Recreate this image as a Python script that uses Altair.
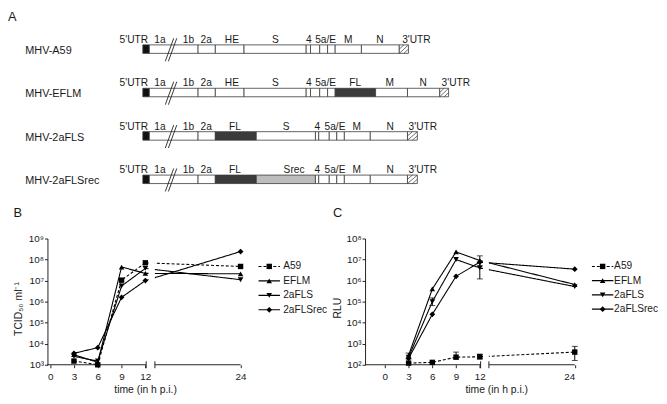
import altair as alt
import pandas as pd

FONT = "Liberation Sans"
INK = "#1a1a1a"
LINE = "#222222"

# ---------------- Panel A: genome organisation ----------------
CONSTRUCTS = ["MHV-A59", "MHV-EFLM", "MHV-2aFLS", "MHV-2aFLSrec"]

A59_GENES = ["5'UTR", "1ab", "2a", "HE", "S", "4", "5a", "5b", "E", "M", "N", "3'UTR"]
A59_LENGTHS = [6.6, 49.4, 17.5, 29.1, 63.0, 4.4, 9.3, 8.0, 7.7, 26.6, 38.4, 9.3]
EFLM_GENES = ["5'UTR", "1ab", "2a", "HE", "S", "4", "5a", "5b", "E", "FL", "M", "N", "3'UTR"]
EFLM_LENGTHS = [6.6, 49.4, 17.5, 29.1, 63.0, 4.4, 9.3, 8.0, 7.7, 41.0, 32.3, 32.7, 9.0]
FLS_GENES = ["5'UTR", "1ab", "2a", "FL", "S", "4", "5a", "5b", "E", "M", "N", "3'UTR"]
FLS_LENGTHS = [6.6, 49.4, 17.5, 41.5, 60.0, 3.3, 10.7, 7.6, 7.7, 26.3, 37.7, 10.0]
FLSREC_GENES = ["5'UTR", "1ab", "2a", "FL", "Srec", "4", "5a", "5b", "E", "M", "N", "3'UTR"]
FLSREC_LENGTHS = [6.6, 49.4, 17.5, 41.5, 60.0, 3.3, 10.7, 7.6, 7.7, 26.3, 37.7, 10.0]

A59_LABELS = ["5'UTR", "1a", "1b", "2a", "HE", "S", "4", "5a/E", "M", "N", "3'UTR"]
A59_LABEL_POS = [-9.2, 17.3, 46.3, 64.3, 90.3, 134.3, 168.3, 185.3, 208.3, 240.3, 277.3]
EFLM_LABELS = ["5'UTR", "1a", "1b", "2a", "HE", "S", "4", "5a/E", "FL", "M", "N", "3'UTR"]
EFLM_LABEL_POS = [-9.2, 17.3, 46.3, 64.3, 90.3, 134.3, 168.3, 185.3, 215.3, 250.3, 284.3, 317.3]
FLS_LABELS = ["5'UTR", "1a", "1b", "2a", "FL", "S", "4", "5a/E", "M", "N", "3'UTR"]
FLS_LABEL_POS = [-9.2, 17.3, 46.3, 64.3, 93.3, 145.3, 176.8, 194.8, 216.8, 250.8, 283.8]
FLSREC_LABELS = ["5'UTR", "1a", "1b", "2a", "FL", "Srec", "4", "5a/E", "M", "N", "3'UTR"]
FLSREC_LABEL_POS = [-9.2, 17.3, 46.3, 64.3, 93.3, 153.3, 176.8, 194.8, 216.8, 250.8, 283.8]

KINDS = ["utr5", "orf", "fl", "srec", "utr3"]
KIND_COLORS = ["#111111", "#ffffff", "#3b3b3b", "#bdbdbd", "#ffffff"]

# ---------------- Panels B / C: growth curves ----------------
TIME_H = [3, 6, 9, 12, 24]
SERIES = ["A59", "EFLM", "2aFLS", "2aFLSrec"]

TCID50_A59 = [1.5e3, 1.0e3, 1.05e7, 7.0e7, 4.7e7]
TCID50_EFLM = [3.0e3, 1.3e3, 4.4e7, 2.2e7, 2.1e7]
TCID50_2AFLS = [2.5e3, 1.5e3, 5.5e6, 3.8e7, 1.1e7]
TCID50_2AFLSREC = [3.5e3, 6.5e3, 1.6e6, 1.0e7, 2.4e8]

RLU_A59 = [1.2e2, 1.3e2, 2.3e2, 2.4e2, 4.0e2]
RLU_EFLM = [2.8e2, 4.0e5, 2.3e7, 9.0e6, 6.5e5]
RLU_2AFLS = [2.3e2, 1.0e5, 1.0e7, 4.0e6, 5.2e5]
RLU_2AFLSREC = [2.0e2, 2.5e4, 1.6e6, 7.5e6, 3.5e6]

RLU_LO_A59 = [None, None, 1.9e2, 1.9e2, 1.6e2]
RLU_HI_A59 = [None, None, 4.0e2, 3.2e2, 7.5e2]
RLU_LO_EFLM = [1.9e2, None, None, 5.0e6, None]
RLU_HI_EFLM = [3.6e2, None, None, 1.5e7, None]
RLU_LO_2AFLS = [None, 6.5e4, None, 1.2e6, None]
RLU_HI_2AFLS = [None, 1.5e5, None, 7.5e6, None]
RLU_LO_2AFLSREC = [None, None, None, None, None]
RLU_HI_2AFLSREC = [None, None, None, None, None]

SHAPES = ["square", "triangle-up", "triangle-down", "diamond"]
SIZES = [30, 34, 34, 24]
DASHES = [[3, 2], [1, 0], [1, 0], [1, 0]]

# ---------- build panel A tables ----------
ROW_PX = 44.0
HALF = 4.3 / ROW_PX
A_W, A_H = 430, 166
A_XDOM = [-96.7, 333.3]
A_YDOM = [-18 / ROW_PX, (A_H - 18) / ROW_PX]


def kind_of(g):
    return {"5'UTR": "utr5", "3'UTR": "utr3", "FL": "fl", "Srec": "srec"}.get(g, "orf")


seg_rows, lab_rows, hatch_rows, brk_rows = [], [], [], []
for r, (genes, lengths, labs, lpos) in enumerate(zip(
        [A59_GENES, EFLM_GENES, FLS_GENES, FLSREC_GENES],
        [A59_LENGTHS, EFLM_LENGTHS, FLS_LENGTHS, FLSREC_LENGTHS],
        [A59_LABELS, EFLM_LABELS, FLS_LABELS, FLSREC_LABELS],
        [A59_LABEL_POS, EFLM_LABEL_POS, FLS_LABEL_POS, FLSREC_LABEL_POS])):
    start = 0.0
    for g, L in zip(genes, lengths):
        seg_rows.append(dict(row=r, gene=g, kind=kind_of(g), x0=start, x1=start + L,
                             y0=r - HALF, y1=r + HALF))
        if g == "3'UTR":
            x0, x1 = start, start + L
            xm = (x0 + x1) / 2
            yt, yb, ym = r - HALF, r + HALF, r
            hatch_rows += [dict(x0=x0, y0=ym, x1=xm, y1=yt),
                           dict(x0=x0, y0=yb, x1=x1, y1=yt),
                           dict(x0=xm, y0=yb, x1=x1, y1=ym)]
        start += L
    for t, p in zip(labs, lpos):
        lab_rows.append(dict(row=r, label=t, x=p, y=r - 9.3 / ROW_PX))
    for bx in (22.8, 25.9):
        brk_rows.append(dict(x0=bx, y0=r + 12.3 / ROW_PX, x1=bx + 8.5, y1=r - 11.0 / ROW_PX))

seg_df = pd.DataFrame(seg_rows)
lab_df = pd.DataFrame(lab_rows)
hatch_df = pd.DataFrame(hatch_rows)
brk_df = pd.DataFrame(brk_rows)

name_expr = "[" + ",".join("'%s'" % c for c in CONSTRUCTS) + "][datum.value]"
AX = alt.Scale(domain=A_XDOM, nice=False, zero=False)
AY = alt.Scale(domain=A_YDOM, nice=False, zero=False, reverse=True)
A_YAXIS = alt.Axis(values=[0, 1, 2, 3], labelExpr=name_expr, labelAlign="left",
                   labelPadding=23, tickSize=0, ticks=False, domain=False, title=None,
                   labelFontSize=11, labelOffset=1.5, labelBaseline="middle")


def ax_(f):
    return alt.X(f, type="quantitative", scale=AX, axis=None)


def ay_(f):
    return alt.Y(f, type="quantitative", scale=AY, axis=A_YAXIS)


bars = alt.Chart(seg_df).mark_rect(stroke="#3a3a3a", strokeWidth=0.8).encode(
    x=ax_("x0"), x2="x1", y=ay_("y0"), y2="y1",
    fill=alt.Fill("kind:N", scale=alt.Scale(domain=KINDS, range=KIND_COLORS), legend=None))
hatch = alt.Chart(hatch_df).mark_rule(color="#333333", strokeWidth=0.7).encode(
    x=ax_("x0"), x2="x1", y=ay_("y0"), y2="y1")
breaks = alt.Chart(brk_df).mark_rule(color="#222222", strokeWidth=0.9).encode(
    x=ax_("x0"), x2="x1", y=ay_("y0"), y2="y1")
labels = alt.Chart(lab_df).mark_text(font=FONT, fontSize=10.3, color=INK, baseline="middle").encode(
    x=ax_("x"), y=ay_("y"), text="label:N")

panel_a = alt.layer(bars, hatch, breaks, labels).properties(
    width=A_W, height=A_H,
    title=alt.TitleParams("A", anchor="start", fontSize=13, fontWeight="normal", offset=8, dx=-17))

# ---------- growth panels ----------
SUP = "['\u2070','\u00b9','\u00b2','\u00b3','\u2074','\u2075','\u2076','\u2077','\u2078','\u2079']"
POW_EXPR = "'10' + " + SUP + "[round(log(datum.value)/LN10)]"

DASH_ENC = alt.StrokeDash("series:N", scale=alt.Scale(domain=SERIES, range=DASHES), legend=None)
SHAPE_ENC = alt.Shape("series:N", scale=alt.Scale(domain=SERIES, range=SHAPES), legend=None)
SIZE_ENC = alt.Size("series:N", scale=alt.Scale(domain=SERIES, range=SIZES), legend=None)


def long_df(lists):
    rows = []
    for s, vals in zip(SERIES, lists):
        for t, v in zip(TIME_H, vals):
            rows.append(dict(series=s, t=t, v=v))
    return pd.DataFrame(rows)


def err_df(los, his):
    rows = []
    for s, lo_l, hi_l in zip(SERIES, los, his):
        for t, lo, hi in zip(TIME_H, lo_l, hi_l):
            if lo is not None:
                rows.append(dict(series=s, t=t, lo=lo, hi=hi))
    return pd.DataFrame(rows)


def growth_panel(letter, df, edf, xdom, ydom, ytitle, W, H, gap, leg_x, leg_rows,
                 x_title_x, y_title_y, y_title_pad, title_offset):
    xs = alt.Scale(domain=xdom, nice=False, zero=False)
    ys = alt.Scale(type="log", domain=ydom, nice=False)
    xaxis = alt.Axis(values=[0, 3, 6, 9, 12, 24], domain=False, tickSize=3, labelPadding=4,
                     title="time (in h p.i.)", titlePadding=3, titleX=x_title_x, grid=False)
    yvals = [ydom[0] * 10 ** k for k in range(7)]
    yaxis = alt.Axis(values=yvals, labelExpr=POW_EXPR, tickSize=3, labelPadding=1,
                     title=ytitle, titlePadding=y_title_pad, titleY=y_title_y, grid=False)

    def X(f):
        return alt.X(f, type="quantitative", scale=xs, axis=xaxis)

    def Y(f):
        return alt.Y(f, type="quantitative", scale=ys, axis=yaxis)

    lines = alt.Chart(df).mark_line(color="black", strokeWidth=1.1).encode(
        x=X("t"), y=Y("v"), strokeDash=DASH_ENC, detail="series:N")
    mask = alt.Chart(pd.DataFrame({"x0": [gap[0] + 0.3], "x1": [gap[1]]})).mark_rect(
        color="white").encode(x=X("x0"), x2="x1", y=alt.value(0), y2=alt.value(H - 1))
    segs = alt.Chart(pd.DataFrame({"x0": [xdom[0], gap[1]], "x1": [gap[0], 24.0]})).mark_rule(
        color=LINE, strokeWidth=1).encode(x=X("x0"), x2="x1", y=alt.value(H))
    brk = alt.Chart(pd.DataFrame({"xb": [gap[0], gap[1]]})).mark_rule(
        color=LINE, strokeWidth=1).encode(x=X("xb"), y=alt.value(H - 3.5), y2=alt.value(H + 3.5))
    pts = alt.Chart(df).mark_point(filled=True, opacity=1, color="black").encode(
        x=X("t"), y=Y("v"), shape=SHAPE_ENC, size=SIZE_ENC)
    layers = [lines, mask, segs, brk]
    if edf is not None and len(edf):
        layers.append(alt.Chart(edf).mark_rule(color="black", strokeWidth=1).encode(
            x=X("t"), y=Y("lo"), y2="hi"))
        layers.append(alt.Chart(edf).mark_tick(color="black", orient="horizontal", size=6,
                                               thickness=1).encode(x=X("t"), y=Y("lo")))
        layers.append(alt.Chart(edf).mark_tick(color="black", orient="horizontal", size=6,
                                               thickness=1).encode(x=X("t"), y=Y("hi")))
    layers.append(pts)
    main = alt.layer(*layers)

    leg = pd.DataFrame({"series": SERIES, "idx": list(range(len(SERIES)))})
    LY = alt.Y("idx:Q", scale=alt.Scale(domain=[0, 3], range=leg_rows), axis=None)
    l_line = alt.Chart(leg).mark_rule(color="black", strokeWidth=1.1).encode(
        x=alt.value(leg_x[0]), x2=alt.value(leg_x[1]), y=LY, strokeDash=DASH_ENC)
    l_pt = alt.Chart(leg).mark_point(filled=True, opacity=1, color="black").encode(
        x=alt.value((leg_x[0] + leg_x[1]) / 2), y=LY, shape=SHAPE_ENC, size=SIZE_ENC)
    l_txt = alt.Chart(leg).mark_text(align="left", baseline="middle", font=FONT, fontSize=10.3,
                                     color=INK).encode(x=alt.value(leg_x[2]), y=LY, text="series:N")
    legend = alt.layer(l_line, l_pt, l_txt)

    return alt.layer(main, legend).resolve_scale(y="independent").properties(
        width=W, height=H,
        title=alt.TitleParams(letter, anchor="start", fontSize=13, fontWeight="normal",
                              offset=title_offset))


df_b = long_df([TCID50_A59, TCID50_EFLM, TCID50_2AFLS, TCID50_2AFLSREC])
df_c = long_df([RLU_A59, RLU_EFLM, RLU_2AFLS, RLU_2AFLSREC])
edf_c = err_df([RLU_LO_A59, RLU_LO_EFLM, RLU_LO_2AFLS, RLU_LO_2AFLSREC],
               [RLU_HI_A59, RLU_HI_EFLM, RLU_HI_2AFLS, RLU_HI_2AFLSREC])

panel_b = growth_panel("B", df_b, None, [-0.34, 24.15], [1e3, 1e9], "TCID\u2085\u2080 ml\u207b\u00b9",
                       197, 128, (12.1, 13.2), (214, 235.7, 239), [28.3, 72.3],
                       99, 71, 5, 14)
panel_c = growth_panel("C", df_c, edf_c, [-2.5, 24.05], [1e2, 1e8], "RLU",
                       213, 128, (12.1, 13.15), (230, 251.7, 252.5), [28.3, 71.6],
                       133, 70, 3, 14)

chart = alt.vconcat(
    panel_a,
    alt.hconcat(panel_b, panel_c, spacing=5),
    spacing=12,
).properties(padding=0).configure_axis(
    labelFont=FONT, titleFont=FONT, labelColor=INK, titleColor=INK,
    labelFontSize=10, titleFontSize=10.5, titleFontWeight="normal",
    domainColor=LINE, tickColor=LINE, grid=False,
).configure_title(font=FONT, color=INK).configure_view(stroke=None)

chart.save("out.html", embed_options={"renderer": "svg", "actions": False})
